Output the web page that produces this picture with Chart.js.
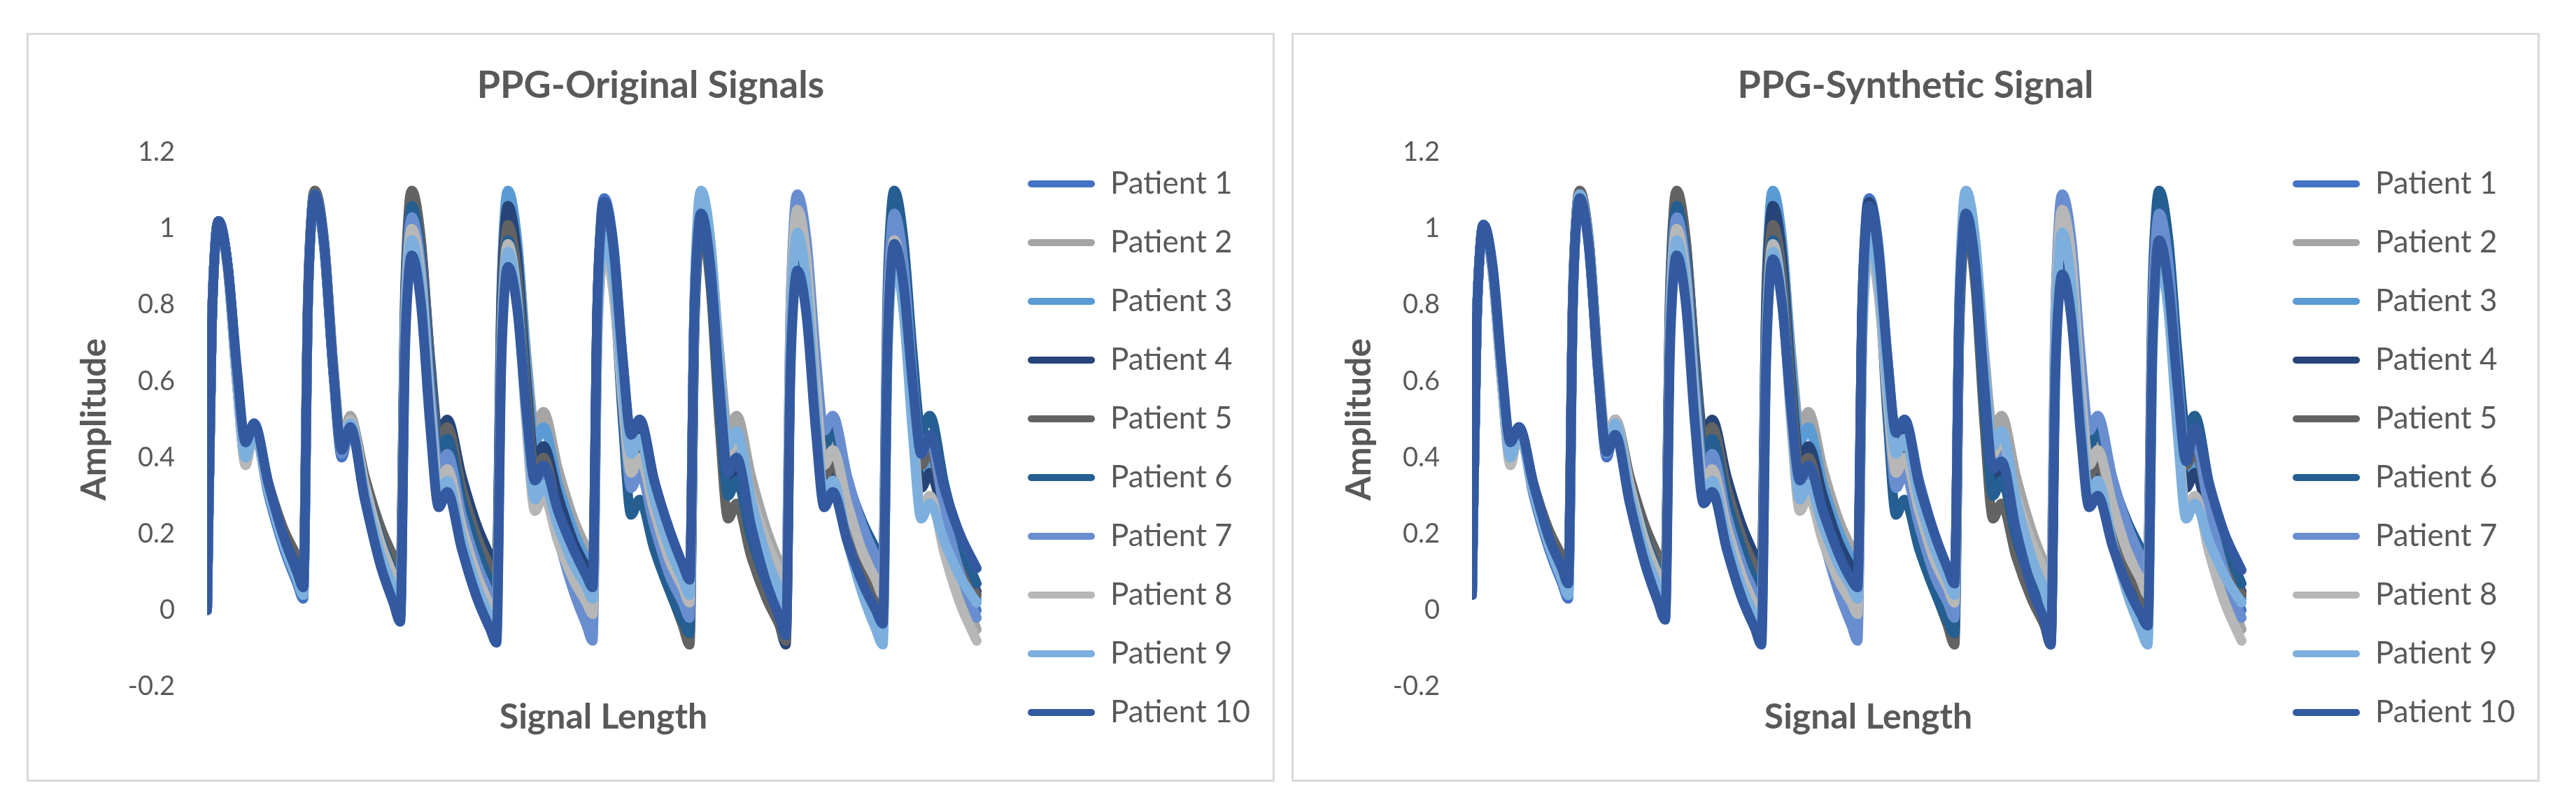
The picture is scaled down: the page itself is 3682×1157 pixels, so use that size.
<!DOCTYPE html>
<html>
<head>
<meta charset="utf-8">
<script src="https://cdn.jsdelivr.net/npm/chart.js@4.4.1/dist/chart.umd.min.js"></script>
<style>
  html, body { margin: 0; padding: 0; background: #fff; }
  body { width: 3682px; height: 1157px; overflow: hidden; position: relative; }
  .panel { position: absolute; top: 47px; width: 1784px; height: 1071px; border: 3px solid #D9D9D9; box-sizing: border-box; background: #fff; }
  .panel canvas { position: absolute; left: 0; top: 0; }
</style>
</head>
<body>
<div class="panel" style="left:38px"><canvas id="chartOriginal" width="1778" height="1182" style="width:1778px;height:1182px"></canvas></div>
<div class="panel" style="left:1846px"><canvas id="chartSynthetic" width="1778" height="1182" style="width:1778px;height:1182px"></canvas></div>
<script>
/* PPG original vs synthetic — 10 patients */

// sample index of every stored point (shared by all patients)
const sampleIdx = [
  0, 6, 11, 15, 27, 39, 50, 61, 80, 100, 117,
  125, 131, 136, 140, 152, 164, 175, 186, 205, 225, 242,
  251, 257, 262, 266, 278, 290, 301, 312, 331, 351, 368,
  376, 382, 387, 391, 403, 415, 426, 437, 456, 476, 493,
  501, 507, 512, 516, 528, 540, 551, 562, 581, 601, 618,
  627, 633, 638, 642, 654, 666, 677, 688, 707, 727, 744,
  752, 758, 763, 767, 779, 791, 802, 813, 832, 852, 869,
  878, 884, 889, 893, 905, 917, 928, 939, 958, 978, 1000
];

const patientNames = ['Patient 1', 'Patient 2', 'Patient 3', 'Patient 4', 'Patient 5', 'Patient 6', 'Patient 7', 'Patient 8', 'Patient 9', 'Patient 10'];
const patientColors = ['#4472C4', '#A5A5A5', '#5B9BD5', '#264478', '#636363', '#255E91', '#698ED0', '#B7B7B7', '#7CAFDD', '#335AA1'];
const yTickLabels = ['-0.2', '0', '0.2', '0.4', '0.6', '0.8', '1', '1.2'];

// ---- PPG-Original Signals ----
const origP1 = [0, 0.73, 0.97, 1.02, 0.90, 0.61, 0.41, 0.47, 0.30, 0.16, 0.07,
  0.03, 0.79, 1.04, 1.09, 0.95, 0.62, 0.40, 0.48, 0.29, 0.13, 0.03,
  -0.02, 0.74, 0.98, 1.03, 0.90, 0.60, 0.40, 0.44, 0.28, 0.15, 0.06,
  0.02, 0.69, 0.90, 0.95, 0.83, 0.55, 0.36, 0.40, 0.27, 0.16, 0.09,
  0.05, 0.79, 1.03, 1.08, 0.96, 0.66, 0.46, 0.50, 0.34, 0.20, 0.11,
  0.07, 0.78, 1.00, 1.05, 0.91, 0.58, 0.36, 0.40, 0.24, 0.10, 0.01,
  -0.03, 0.68, 0.90, 0.95, 0.82, 0.52, 0.32, 0.36, 0.22, 0.09, 0.02,
  -0.02, 0.70, 0.93, 0.98, 0.86, 0.59, 0.40, 0.44, 0.26, 0.11, 0.00];
const origP2 = [0, 0.73, 0.97, 1.02, 0.89, 0.59, 0.39, 0.47, 0.31, 0.18, 0.09,
  0.05, 0.81, 1.05, 1.10, 0.97, 0.65, 0.44, 0.51, 0.32, 0.17, 0.07,
  0.02, 0.77, 1.01, 1.06, 0.93, 0.62, 0.42, 0.46, 0.30, 0.17, 0.08,
  0.04, 0.79, 1.03, 1.08, 0.96, 0.67, 0.48, 0.52, 0.37, 0.24, 0.16,
  0.12, 0.79, 1.00, 1.05, 0.93, 0.64, 0.45, 0.49, 0.33, 0.19, 0.10,
  0.06, 0.79, 1.03, 1.08, 0.96, 0.67, 0.47, 0.51, 0.35, 0.21, 0.12,
  0.08, 0.79, 1.01, 1.06, 0.93, 0.60, 0.39, 0.43, 0.29, 0.17, 0.10,
  0.06, 0.73, 0.94, 0.99, 0.86, 0.56, 0.36, 0.40, 0.22, 0.07, -0.05];
const origP3 = [0, 0.73, 0.97, 1.02, 0.90, 0.60, 0.40, 0.47, 0.31, 0.17, 0.08,
  0.04, 0.80, 1.04, 1.09, 0.96, 0.63, 0.42, 0.49, 0.30, 0.15, 0.05,
  0.00, 0.76, 1.00, 1.05, 0.92, 0.60, 0.39, 0.43, 0.29, 0.16, 0.09,
  0.05, 0.81, 1.05, 1.10, 0.97, 0.65, 0.44, 0.48, 0.33, 0.21, 0.13,
  0.09, 0.79, 1.01, 1.06, 0.94, 0.64, 0.44, 0.48, 0.32, 0.18, 0.09,
  0.05, 0.78, 1.02, 1.07, 0.93, 0.60, 0.38, 0.42, 0.27, 0.14, 0.06,
  0.02, 0.73, 0.95, 1.00, 0.87, 0.55, 0.34, 0.38, 0.24, 0.11, 0.04,
  0.00, 0.72, 0.95, 1.00, 0.87, 0.55, 0.34, 0.38, 0.24, 0.12, 0.03];
const origP4 = [0, 0.73, 0.97, 1.02, 0.90, 0.61, 0.41, 0.48, 0.33, 0.20, 0.12,
  0.08, 0.81, 1.04, 1.09, 0.96, 0.63, 0.42, 0.49, 0.32, 0.18, 0.09,
  0.05, 0.79, 1.03, 1.08, 0.96, 0.66, 0.46, 0.50, 0.35, 0.22, 0.14,
  0.10, 0.79, 1.01, 1.06, 0.93, 0.60, 0.39, 0.43, 0.30, 0.18, 0.11,
  0.075, 0.79, 1.02, 1.07, 0.94, 0.64, 0.43, 0.47, 0.31, 0.18, 0.10,
  0.06, 0.77, 1.00, 1.05, 0.91, 0.57, 0.34, 0.38, 0.20, 0.05, -0.04,
  -0.09, 0.67, 0.92, 0.97, 0.84, 0.52, 0.31, 0.35, 0.20, 0.07, -0.01,
  -0.05, 0.72, 0.97, 1.02, 0.88, 0.54, 0.32, 0.36, 0.24, 0.13, 0.05];
const origP5 = [0, 0.73, 0.97, 1.02, 0.90, 0.60, 0.40, 0.47, 0.33, 0.21, 0.14,
  0.10, 0.82, 1.05, 1.10, 0.97, 0.64, 0.43, 0.50, 0.35, 0.22, 0.14,
  0.10, 0.82, 1.05, 1.10, 0.97, 0.65, 0.44, 0.48, 0.32, 0.19, 0.11,
  0.07, 0.75, 0.96, 1.01, 0.88, 0.57, 0.36, 0.40, 0.25, 0.12, 0.04,
  0.00, 0.75, 0.99, 1.04, 0.91, 0.59, 0.38, 0.42, 0.23, 0.06, -0.04,
  -0.09, 0.70, 0.95, 1.00, 0.85, 0.48, 0.24, 0.28, 0.14, 0.03, -0.04,
  -0.08, 0.71, 0.97, 1.02, 0.89, 0.56, 0.35, 0.39, 0.25, 0.12, 0.05,
  0.01, 0.76, 1.00, 1.05, 0.92, 0.59, 0.38, 0.42, 0.27, 0.14, 0.04];
const origP6 = [0, 0.73, 0.97, 1.02, 0.90, 0.61, 0.41, 0.48, 0.32, 0.19, 0.11,
  0.07, 0.80, 1.04, 1.09, 0.96, 0.63, 0.42, 0.49, 0.33, 0.19, 0.10,
  0.06, 0.78, 1.01, 1.06, 0.93, 0.62, 0.41, 0.45, 0.29, 0.16, 0.07,
  0.03, 0.71, 0.92, 0.97, 0.84, 0.53, 0.32, 0.36, 0.21, 0.09, 0.01,
  -0.03, 0.73, 0.97, 1.02, 0.87, 0.50, 0.25, 0.29, 0.16, 0.05, -0.03,
  -0.06, 0.72, 0.97, 1.02, 0.88, 0.53, 0.30, 0.34, 0.19, 0.07, -0.01,
  -0.05, 0.74, 0.99, 1.04, 0.92, 0.63, 0.43, 0.47, 0.34, 0.23, 0.16,
  0.12, 0.83, 1.05, 1.10, 0.97, 0.67, 0.47, 0.51, 0.33, 0.18, 0.07];
const origP7 = [0, 0.73, 0.97, 1.02, 0.89, 0.59, 0.39, 0.47, 0.31, 0.18, 0.10,
  0.06, 0.80, 1.04, 1.09, 0.95, 0.63, 0.41, 0.48, 0.31, 0.17, 0.08,
  0.03, 0.75, 0.98, 1.03, 0.90, 0.58, 0.37, 0.41, 0.25, 0.12, 0.04,
  0.00, 0.67, 0.88, 0.93, 0.81, 0.51, 0.31, 0.35, 0.19, 0.05, -0.04,
  -0.08, 0.70, 0.95, 1.00, 0.86, 0.54, 0.32, 0.36, 0.22, 0.09, 0.02,
  -0.02, 0.76, 1.01, 1.06, 0.93, 0.61, 0.40, 0.44, 0.28, 0.15, 0.07,
  0.03, 0.79, 1.04, 1.09, 0.97, 0.67, 0.47, 0.51, 0.35, 0.22, 0.14,
  0.10, 0.78, 0.99, 1.04, 0.91, 0.61, 0.41, 0.45, 0.26, 0.10, -0.02];
const origP8 = [0, 0.73, 0.97, 1.02, 0.89, 0.59, 0.38, 0.47, 0.31, 0.18, 0.09,
  0.05, 0.80, 1.04, 1.09, 0.96, 0.64, 0.43, 0.50, 0.33, 0.18, 0.09,
  0.04, 0.73, 0.95, 1.00, 0.87, 0.54, 0.33, 0.37, 0.22, 0.09, 0.01,
  -0.03, 0.68, 0.91, 0.96, 0.82, 0.48, 0.26, 0.30, 0.18, 0.08, 0.02,
  -0.01, 0.68, 0.90, 0.95, 0.83, 0.55, 0.36, 0.40, 0.26, 0.13, 0.06,
  0.02, 0.76, 1.00, 1.05, 0.92, 0.61, 0.41, 0.45, 0.30, 0.18, 0.10,
  0.06, 0.77, 1.00, 1.05, 0.92, 0.59, 0.38, 0.42, 0.28, 0.15, 0.08,
  0.04, 0.71, 0.92, 0.97, 0.83, 0.49, 0.26, 0.30, 0.15, 0.02, -0.08];
const origP9 = [0, 0.73, 0.97, 1.02, 0.90, 0.60, 0.40, 0.47, 0.31, 0.17, 0.08,
  0.04, 0.80, 1.04, 1.09, 0.96, 0.63, 0.42, 0.49, 0.31, 0.15, 0.06,
  0.01, 0.70, 0.92, 0.97, 0.84, 0.51, 0.30, 0.34, 0.19, 0.06, -0.02,
  -0.06, 0.66, 0.89, 0.94, 0.81, 0.50, 0.29, 0.33, 0.22, 0.12, 0.06,
  0.03, 0.71, 0.93, 0.98, 0.87, 0.59, 0.41, 0.45, 0.29, 0.16, 0.08,
  0.04, 0.80, 1.05, 1.10, 0.97, 0.64, 0.43, 0.47, 0.29, 0.14, 0.05,
  0.00, 0.71, 0.94, 0.99, 0.85, 0.52, 0.30, 0.34, 0.18, 0.04, -0.05,
  -0.09, 0.64, 0.87, 0.92, 0.78, 0.46, 0.24, 0.28, 0.18, 0.09, 0.02];
const origP10 = [0, 0.73, 0.97, 1.02, 0.90, 0.63, 0.44, 0.49, 0.33, 0.19, 0.10,
  0.06, 0.80, 1.04, 1.09, 0.96, 0.63, 0.42, 0.48, 0.29, 0.12, 0.02,
  -0.03, 0.66, 0.88, 0.93, 0.80, 0.48, 0.27, 0.31, 0.16, 0.03, -0.05,
  -0.085, 0.62, 0.85, 0.90, 0.79, 0.52, 0.34, 0.38, 0.26, 0.16, 0.09,
  0.06, 0.79, 1.02, 1.07, 0.95, 0.66, 0.46, 0.50, 0.34, 0.21, 0.12,
  0.08, 0.77, 0.99, 1.04, 0.90, 0.58, 0.36, 0.40, 0.22, 0.07, -0.02,
  -0.066, 0.62, 0.84, 0.89, 0.77, 0.47, 0.27, 0.31, 0.18, 0.07, 0.00,
  -0.035, 0.68, 0.91, 0.96, 0.85, 0.59, 0.41, 0.46, 0.32, 0.20, 0.11];

// ---- PPG-Synthetic Signal ----
const synP1 = [0.04, 0.74, 0.96, 1.01, 0.89, 0.61, 0.41, 0.47, 0.30, 0.16, 0.07,
  0.03, 0.79, 1.04, 1.09, 0.95, 0.62, 0.40, 0.48, 0.29, 0.13, 0.03,
  -0.02, 0.74, 0.98, 1.03, 0.90, 0.60, 0.40, 0.44, 0.28, 0.15, 0.06,
  0.02, 0.69, 0.90, 0.95, 0.83, 0.55, 0.36, 0.40, 0.27, 0.16, 0.09,
  0.05, 0.79, 1.03, 1.08, 0.96, 0.66, 0.46, 0.50, 0.34, 0.20, 0.11,
  0.07, 0.78, 1.00, 1.05, 0.91, 0.58, 0.36, 0.40, 0.24, 0.10, 0.01,
  -0.03, 0.68, 0.90, 0.95, 0.82, 0.52, 0.32, 0.36, 0.22, 0.09, 0.02,
  -0.02, 0.70, 0.93, 0.98, 0.86, 0.59, 0.40, 0.44, 0.26, 0.11, 0.00];
const synP2 = [0.04, 0.74, 0.96, 1.01, 0.88, 0.59, 0.39, 0.47, 0.31, 0.18, 0.09,
  0.05, 0.81, 1.05, 1.10, 0.97, 0.65, 0.44, 0.50, 0.32, 0.17, 0.07,
  0.02, 0.77, 1.01, 1.06, 0.93, 0.62, 0.42, 0.46, 0.30, 0.17, 0.08,
  0.04, 0.79, 1.03, 1.08, 0.96, 0.67, 0.48, 0.52, 0.37, 0.24, 0.16,
  0.12, 0.79, 1.00, 1.05, 0.93, 0.64, 0.45, 0.49, 0.33, 0.19, 0.10,
  0.06, 0.79, 1.03, 1.08, 0.96, 0.67, 0.47, 0.51, 0.35, 0.21, 0.12,
  0.08, 0.79, 1.01, 1.06, 0.93, 0.60, 0.39, 0.43, 0.29, 0.17, 0.10,
  0.06, 0.73, 0.94, 0.99, 0.86, 0.56, 0.36, 0.40, 0.22, 0.07, -0.05];
const synP3 = [0.04, 0.74, 0.96, 1.01, 0.89, 0.60, 0.40, 0.47, 0.31, 0.17, 0.08,
  0.04, 0.80, 1.04, 1.09, 0.96, 0.63, 0.42, 0.49, 0.30, 0.15, 0.05,
  0.00, 0.76, 1.00, 1.05, 0.92, 0.60, 0.39, 0.43, 0.29, 0.16, 0.09,
  0.05, 0.81, 1.05, 1.10, 0.97, 0.65, 0.44, 0.48, 0.33, 0.21, 0.13,
  0.09, 0.79, 1.01, 1.06, 0.94, 0.64, 0.44, 0.48, 0.32, 0.18, 0.09,
  0.05, 0.78, 1.02, 1.07, 0.93, 0.60, 0.38, 0.42, 0.27, 0.14, 0.06,
  0.02, 0.73, 0.95, 1.00, 0.87, 0.55, 0.34, 0.38, 0.24, 0.11, 0.04,
  0.00, 0.72, 0.95, 1.00, 0.87, 0.55, 0.34, 0.38, 0.24, 0.12, 0.03];
const synP4 = [0.04, 0.74, 0.96, 1.01, 0.89, 0.61, 0.41, 0.48, 0.33, 0.20, 0.12,
  0.08, 0.81, 1.04, 1.09, 0.96, 0.63, 0.42, 0.49, 0.32, 0.18, 0.09,
  0.05, 0.79, 1.03, 1.08, 0.96, 0.66, 0.46, 0.50, 0.35, 0.22, 0.14,
  0.10, 0.79, 1.01, 1.06, 0.93, 0.60, 0.39, 0.43, 0.30, 0.18, 0.11,
  0.075, 0.79, 1.02, 1.07, 0.94, 0.64, 0.43, 0.47, 0.31, 0.18, 0.10,
  0.06, 0.77, 1.00, 1.05, 0.91, 0.57, 0.34, 0.38, 0.20, 0.05, -0.04,
  -0.09, 0.67, 0.92, 0.97, 0.84, 0.52, 0.31, 0.35, 0.20, 0.07, -0.01,
  -0.05, 0.72, 0.97, 1.02, 0.88, 0.54, 0.32, 0.36, 0.24, 0.13, 0.05];
const synP5 = [0.04, 0.74, 0.96, 1.01, 0.89, 0.60, 0.40, 0.47, 0.33, 0.21, 0.14,
  0.10, 0.82, 1.05, 1.10, 0.97, 0.64, 0.43, 0.50, 0.35, 0.22, 0.14,
  0.10, 0.82, 1.05, 1.10, 0.97, 0.65, 0.44, 0.48, 0.32, 0.19, 0.11,
  0.07, 0.75, 0.96, 1.01, 0.88, 0.57, 0.36, 0.40, 0.25, 0.12, 0.04,
  0.00, 0.75, 0.99, 1.04, 0.91, 0.59, 0.38, 0.42, 0.23, 0.06, -0.04,
  -0.09, 0.70, 0.95, 1.00, 0.85, 0.48, 0.24, 0.28, 0.14, 0.03, -0.04,
  -0.08, 0.71, 0.97, 1.02, 0.89, 0.56, 0.35, 0.39, 0.25, 0.12, 0.05,
  0.01, 0.76, 1.00, 1.05, 0.92, 0.59, 0.38, 0.42, 0.27, 0.14, 0.04];
const synP6 = [0.04, 0.74, 0.96, 1.01, 0.89, 0.61, 0.41, 0.48, 0.32, 0.19, 0.11,
  0.07, 0.80, 1.04, 1.09, 0.96, 0.63, 0.42, 0.49, 0.33, 0.19, 0.10,
  0.06, 0.78, 1.01, 1.06, 0.93, 0.62, 0.41, 0.45, 0.29, 0.16, 0.07,
  0.03, 0.71, 0.92, 0.97, 0.84, 0.53, 0.32, 0.36, 0.21, 0.09, 0.01,
  -0.03, 0.73, 0.97, 1.02, 0.87, 0.50, 0.25, 0.29, 0.16, 0.05, -0.03,
  -0.06, 0.72, 0.97, 1.02, 0.88, 0.53, 0.30, 0.34, 0.19, 0.07, -0.01,
  -0.05, 0.74, 0.99, 1.04, 0.92, 0.63, 0.43, 0.47, 0.34, 0.23, 0.16,
  0.12, 0.83, 1.05, 1.10, 0.97, 0.67, 0.47, 0.51, 0.33, 0.18, 0.07];
const synP7 = [0.04, 0.74, 0.96, 1.01, 0.88, 0.59, 0.39, 0.47, 0.31, 0.18, 0.10,
  0.06, 0.80, 1.04, 1.09, 0.95, 0.63, 0.41, 0.48, 0.31, 0.17, 0.08,
  0.03, 0.75, 0.98, 1.03, 0.90, 0.58, 0.37, 0.41, 0.25, 0.12, 0.04,
  0.00, 0.67, 0.88, 0.93, 0.81, 0.51, 0.31, 0.35, 0.19, 0.05, -0.04,
  -0.08, 0.70, 0.95, 1.00, 0.86, 0.54, 0.32, 0.36, 0.22, 0.09, 0.02,
  -0.02, 0.76, 1.01, 1.06, 0.93, 0.61, 0.40, 0.44, 0.28, 0.15, 0.07,
  0.03, 0.79, 1.04, 1.09, 0.97, 0.67, 0.47, 0.51, 0.35, 0.22, 0.14,
  0.10, 0.78, 0.99, 1.04, 0.91, 0.61, 0.41, 0.45, 0.26, 0.10, -0.02];
const synP8 = [0.04, 0.74, 0.96, 1.01, 0.88, 0.59, 0.38, 0.47, 0.31, 0.18, 0.09,
  0.05, 0.80, 1.04, 1.09, 0.96, 0.64, 0.43, 0.50, 0.33, 0.18, 0.09,
  0.04, 0.73, 0.95, 1.00, 0.87, 0.54, 0.33, 0.37, 0.22, 0.09, 0.01,
  -0.03, 0.68, 0.91, 0.96, 0.82, 0.48, 0.26, 0.30, 0.18, 0.08, 0.02,
  -0.01, 0.68, 0.90, 0.95, 0.83, 0.55, 0.36, 0.40, 0.26, 0.13, 0.06,
  0.02, 0.76, 1.00, 1.05, 0.92, 0.61, 0.41, 0.45, 0.30, 0.18, 0.10,
  0.06, 0.77, 1.00, 1.05, 0.92, 0.59, 0.38, 0.42, 0.28, 0.15, 0.08,
  0.04, 0.71, 0.92, 0.97, 0.83, 0.49, 0.26, 0.30, 0.15, 0.02, -0.08];
const synP9 = [0.04, 0.74, 0.96, 1.01, 0.89, 0.60, 0.40, 0.47, 0.31, 0.17, 0.08,
  0.04, 0.80, 1.04, 1.09, 0.96, 0.63, 0.42, 0.49, 0.31, 0.15, 0.06,
  0.01, 0.70, 0.92, 0.97, 0.84, 0.51, 0.30, 0.34, 0.19, 0.06, -0.02,
  -0.06, 0.66, 0.89, 0.94, 0.81, 0.50, 0.29, 0.33, 0.22, 0.12, 0.06,
  0.03, 0.71, 0.93, 0.98, 0.87, 0.59, 0.41, 0.45, 0.29, 0.16, 0.08,
  0.04, 0.80, 1.05, 1.10, 0.97, 0.64, 0.43, 0.47, 0.29, 0.14, 0.05,
  0.00, 0.71, 0.94, 0.99, 0.85, 0.52, 0.30, 0.34, 0.18, 0.04, -0.05,
  -0.09, 0.64, 0.87, 0.92, 0.78, 0.46, 0.24, 0.28, 0.18, 0.09, 0.02];
const synP10 = [0.04, 0.74, 0.96, 1.01, 0.90, 0.63, 0.44, 0.48, 0.33, 0.19, 0.11,
  0.07, 0.80, 1.03, 1.08, 0.95, 0.62, 0.415, 0.46, 0.28, 0.12, 0.02,
  -0.025, 0.66, 0.88, 0.93, 0.80, 0.48, 0.28, 0.31, 0.16, 0.03, -0.05,
  -0.09, 0.63, 0.87, 0.92, 0.80, 0.52, 0.34, 0.38, 0.26, 0.15, 0.08,
  0.06, 0.78, 1.01, 1.06, 0.94, 0.66, 0.465, 0.50, 0.33, 0.20, 0.11,
  0.07, 0.77, 0.99, 1.04, 0.90, 0.58, 0.37, 0.39, 0.21, 0.06, -0.03,
  -0.09, 0.61, 0.83, 0.88, 0.76, 0.46, 0.27, 0.30, 0.17, 0.06, -0.01,
  -0.04, 0.68, 0.92, 0.97, 0.85, 0.58, 0.39, 0.48, 0.33, 0.20, 0.105];

const FONT = 'Lato, "Open Sans", sans-serif';
const GREY = '#595959';

function buildPpgChart(canvasId, titleText, series) {
    const ctx = document.getElementById(canvasId);
    const datasets = series.map((vals, i) => ({
        label: patientNames[i],
        data: vals,
        borderColor: patientColors[i],
        backgroundColor: patientColors[i],
        borderWidth: 14,
        pointRadius: 0,
        borderJoinStyle: 'round',
        borderCapStyle: 'round',
        cubicInterpolationMode: 'monotone',
        order: series.length - i   // later patients are painted on top
    }));
    return new Chart(ctx, {
        type: 'line',
        data: { labels: sampleIdx, datasets },
        options: {
            responsive: false, animation: false, events: [],
            layout: { padding: { left: 22, right: 22, top: 0, bottom: 0 } },
            plugins: {
                tooltip: { enabled: false },
                title: {
                    display: true, text: titleText, color: GREY,
                    font: { family: FONT, size: 54, weight: 'bold' },
                    padding: { top: 40, bottom: 63 }
                },
                legend: {
                    position: 'right', align: 'center',
                    labels: {
                        color: GREY, font: { family: FONT, size: 44 },
                        boxWidth: 96, boxHeight: 10, padding: 40,
                        sort: (a, b) => a.datasetIndex - b.datasetIndex,
                        generateLabels: chart => Chart.defaults.plugins.legend.labels.generateLabels(chart).map(item => {
                            item.fillStyle = item.strokeStyle;
                            item.lineWidth = 0;
                            item.borderRadius = 5;
                            return item;
                        })
                    }
                }
            },
            scales: {
                x: {
                    type: 'linear', min: 0, max: 1030,
                    grid: { display: false, drawTicks: false }, border: { display: false },
                    ticks: { display: false },
                    title: { display: true, text: 'Signal Length', color: GREY, font: { family: FONT, size: 50, weight: 'bold' }, padding: { top: 14, bottom: 176 } }
                },
                y: {
                    min: -0.2, max: 1.2,
                    grid: { display: false, drawTicks: false }, border: { display: false },
                    ticks: { stepSize: 0.2, padding: 46, color: GREY, font: { family: FONT, size: 38 }, callback: (v, i) => yTickLabels[i] },
                    title: { display: true, text: 'Amplitude', color: GREY, font: { family: FONT, size: 50, weight: 'bold' }, padding: { top: 42, bottom: 0 } },
                    afterFit: s => { s.width = 233; }
                }
            }
        }
    });
}

buildPpgChart('chartOriginal', 'PPG-Original Signals',
    [origP1, origP2, origP3, origP4, origP5, origP6, origP7, origP8, origP9, origP10]);
buildPpgChart('chartSynthetic', 'PPG-Synthetic Signal',
    [synP1, synP2, synP3, synP4, synP5, synP6, synP7, synP8, synP9, synP10]);
</script>
</body>
</html>
